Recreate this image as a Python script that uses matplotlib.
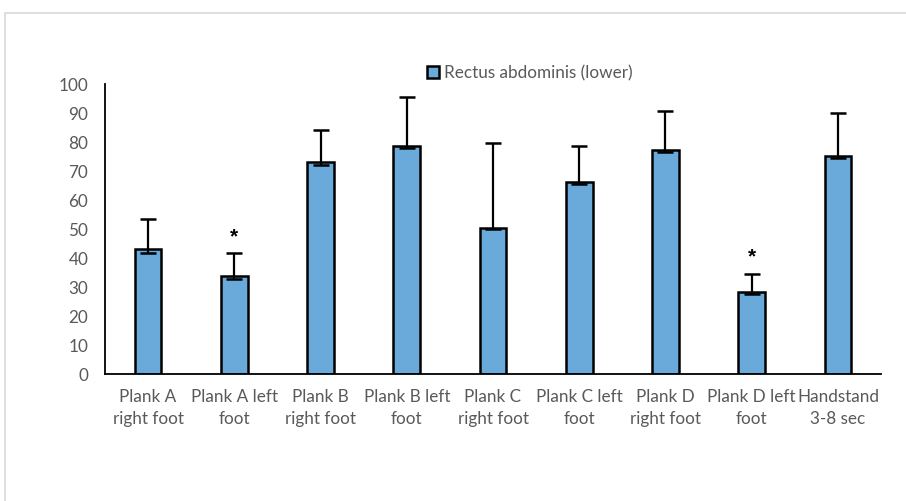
import matplotlib
matplotlib.use("Agg")
import matplotlib.pyplot as plt
from matplotlib.patches import Rectangle
import numpy as np

plt.rcParams['font.family'] = ['Lato', 'DejaVu Sans']

categories = ["Plank A\nright foot", "Plank A left\nfoot", "Plank B\nright foot", "Plank B left\nfoot",
              "Plank C\nright foot", "Plank C left\nfoot", "Plank D\nright foot", "Plank D left\nfoot",
              "Handstand\n3-8 sec"]
means = [43.1, 33.9, 73.2, 78.7, 50.4, 66.1, 77.3, 28.2, 75.3]
err_upper = [10.3, 7.7, 11.0, 16.9, 29.2, 12.6, 13.3, 6.3, 14.7]
err_lower = [1.3, 1.3, 1.3, 0.6, 0.4, 0.5, 0.6, 0.7, 0.7]
significant = [1, 7]
series_name = "Rectus abdominis (lower)"
yticks = [0, 10, 20, 30, 40, 50, 60, 70, 80, 90, 100]

W, H = 906, 502
fig = plt.figure(figsize=(W / 100, H / 100), dpi=100)
fig.patch.set_facecolor("white")

# light gray chart-area border
fig.patches.append(Rectangle((5 / W, -0.1), 1.2, 1 - 14 / H + 0.1, transform=fig.transFigure,
                             fill=False, edgecolor="#d9d9d9", linewidth=1.2))

ax = fig.add_axes([105 / W, 1 - 375 / H, (881 - 105) / W, (375 - 85) / H])
x = np.arange(len(categories))
bars = ax.bar(x, means, width=0.31, color="#6aaadb", edgecolor="black", linewidth=1.8,
              label=series_name, zorder=2)
ax.errorbar(x, means, yerr=[err_lower, err_upper], fmt="none", ecolor="black",
            elinewidth=1.6, capsize=5.5, capthick=1.8, zorder=3)
for i in significant:
    ax.annotate("*", (x[i], means[i] + err_upper[i]), xytext=(0, 6), textcoords="offset points",
                ha="center", va="bottom", fontsize=15, fontweight="bold", color="black",
                fontfamily="Liberation Sans")

ax.set_xlim(-0.5, len(categories) - 0.5)
ax.set_ylim(0, 100)
ax.set_yticks(yticks)
ax.set_xticks(x)
ax.set_xticklabels(categories, fontsize=12.3, color="#595959", linespacing=1.45)
ax.tick_params(axis="y", length=0, labelsize=12.3, labelcolor="#595959", pad=12)
ax.tick_params(axis="x", length=0, pad=10)
for s in ["top", "right"]:
    ax.spines[s].set_visible(False)
ax.spines["left"].set_linewidth(1.3)
ax.spines["bottom"].set_linewidth(1.3)

leg = ax.legend(loc="center", bbox_to_anchor=((530 - 105) / 776, 1.0 + (85 - 73.5) / (375 - 85)),
                frameon=False, fontsize=12.3, handlelength=0.7, handleheight=0.7,
                handletextpad=0.3, labelcolor="#595959")

fig.savefig("out.png", dpi=100, facecolor="white")
